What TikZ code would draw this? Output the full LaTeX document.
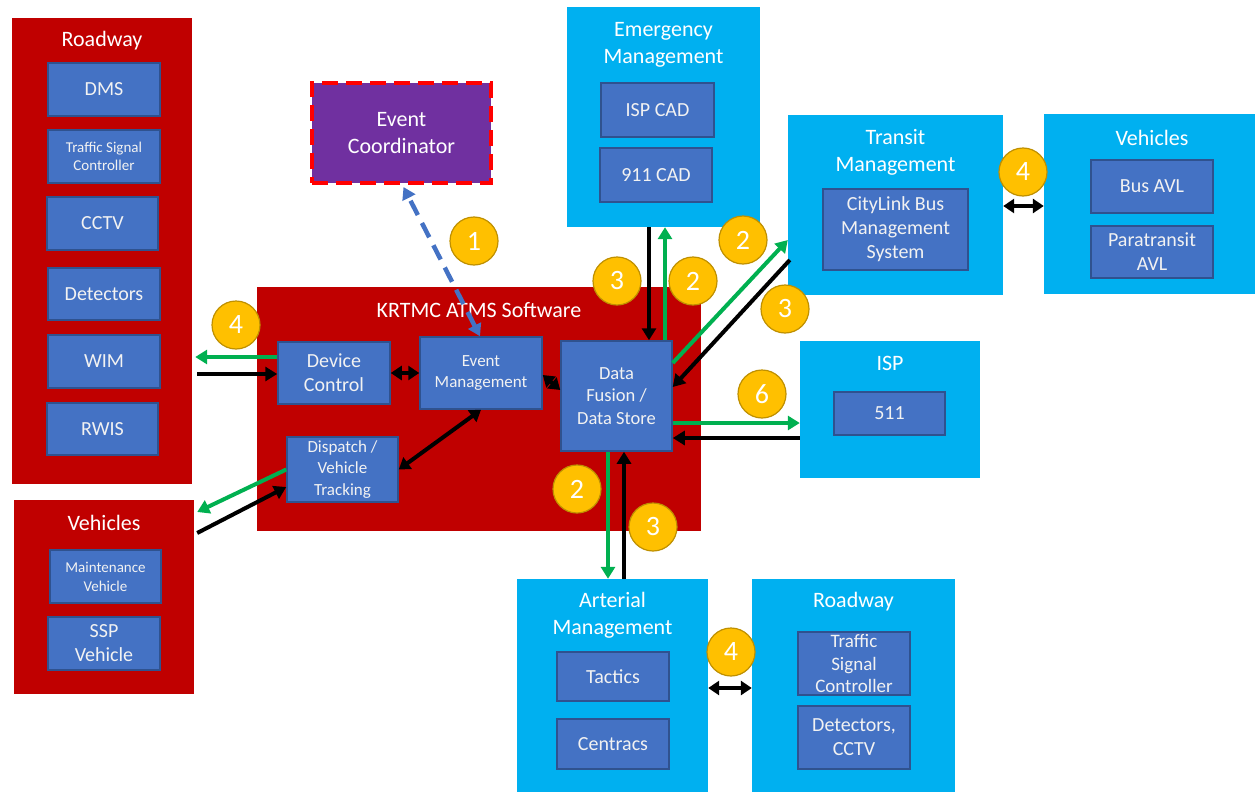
\documentclass[tikz,border=0pt]{standalone}
\usepackage{fontspec}
\setmainfont{Carlito}
\usetikzlibrary{arrows.meta,calc}

\definecolor{ksred}{HTML}{C00000}
\definecolor{kscyan}{HTML}{00B0F0}
\definecolor{ksblue}{HTML}{4472C4}
\definecolor{ksblueedge}{HTML}{2F528F}
\definecolor{ksgold}{HTML}{FFC000}
\definecolor{ksgoldedge}{HTML}{BF9000}
\definecolor{ksgreen}{HTML}{00B050}
\definecolor{kspurple}{HTML}{7030A0}
\definecolor{kslight}{HTML}{F2F2F2}

\newcommand{\fsz}[2]{\fontsize{#1}{#2}\selectfont}

\tikzset{
  wh/.style 2 args={minimum width=#1pt, minimum height=#2pt},
  redgroup/.style={rectangle, fill=ksred, inner sep=0pt},
  cyangroup/.style={rectangle, fill=kscyan, inner sep=0pt},
  sub/.style={rectangle, fill=ksblue, draw=ksblueedge, line width=1.5pt,
    text=kslight, align=center, inner sep=0pt, font=\fsz{20}{24}},
  grouptitle/.style={text=white, align=center, inner sep=0pt, font=\fsz{22}{27}},
  badge/.style={circle, fill=ksgold, draw=ksgoldedge, line width=1.2pt,
    minimum size=48pt, inner sep=0pt, text=white, font=\fsz{28}{28}},
  oneway/.style={line width=4pt, -{Triangle[length=12pt,width=14pt]}},
  twoway/.style={line width=4pt,
    {Triangle[length=11pt,width=14pt]}-{Triangle[length=11pt,width=14pt]}},
  gflow/.style={oneway, draw=ksgreen},
  kflow/.style={oneway, draw=black},
  kboth/.style={twoway, draw=black},
}

\begin{document}
\begin{tikzpicture}[x=1pt, y=-1pt]
\useasboundingbox (0,0) rectangle (1255,792);

% ---------------- Roadway field devices (left) ----------------
\node[redgroup, wh={180}{466}] (roadL) at (102,251) {};
\node[grouptitle] (roadLt) at ($(roadL.north)+(0,23)$) {Roadway};
\node[sub, wh={112}{53}] (dms) at (104,89.5) {DMS};
\node[sub, wh={112}{53}, font=\fsz{15}{18}] (tscL) at (104,156.5) {Traffic Signal\\Controller};
\node[sub, wh={111}{53}] (cctvL) at (102.5,223.5) {CCTV};
\node[sub, wh={112}{52}] (detL) at (104,294) {Detectors};
\node[sub, wh={112}{53}] (wim) at (104,361.5) {WIM};
\node[sub, wh={111}{52}] (rwis) at (102.5,429) {RWIS};

% ---------------- Vehicles (left) ----------------
\node[redgroup, wh={180}{194}] (vehL) at (104,597) {};
\node[grouptitle] (vehLt) at ($(vehL.north)+(0,23)$) {Vehicles};
\node[sub, wh={111}{53}, font=\fsz{15}{19}] (maint) at (105.5,576.5) {Maintenance\\Vehicle};
\node[sub, wh={112}{53}] (ssp) at (104,643.5) {SSP\\Vehicle};

% ---------------- Event coordinator ----------------
\node[rectangle, fill=kspurple, draw=red, line width=4pt, dash pattern=on 16pt off 8pt,
  wh={179}{100}, text=white, align=center, font=\fsz{22}{27}] (ec) at (401.5,133) {Event\\Coordinator};

% ---------------- KRTMC ATMS software ----------------
\node[redgroup, wh={444}{244}] (atms) at (479,409) {};
\node[grouptitle] (atmst) at ($(atms.north)+(0,23)$) {KRTMC ATMS Software};
\node[sub, wh={112}{62}] (dc) at (334,373) {Device\\Control};
\node[sub, wh={122}{72}, font=\fsz{17}{21}] (em) at (481,373) {Event\\Management};
\node[sub, wh={111}{65}, font=\fsz{17}{21.5}] (dv) at (342.5,469.5) {Dispatch /\\Vehicle\\Tracking};
\node[sub, wh={111}{110}, font=\fsz{18.5}{22.5}] (df) at (616.5,396) {Data\\Fusion /\\Data Store};

% ---------------- Emergency management ----------------
\node[cyangroup, wh={193}{220}] (emg) at (663.5,117) {};
\node[grouptitle] (emgt) at ($(emg.north)+(0,38)$) {Emergency\\Management};
\node[sub, wh={113}{54}] (ispcad) at (657.5,110) {ISP CAD};
\node[sub, wh={112}{54}] (cad911) at (656,175) {911 CAD};

% ---------------- Transit management ----------------
\node[cyangroup, wh={215}{180}] (tr) at (895.5,205) {};
\node[grouptitle] (trt) at ($(tr.north)+(0,38)$) {Transit\\Management};
\node[sub, wh={145}{81}] (citylink) at (895.5,229.5) {CityLink Bus\\Management\\System};

% ---------------- Vehicles (transit) ----------------
\node[cyangroup, wh={211}{180}] (vehR) at (1149.5,204) {};
\node[grouptitle] (vehRt) at (1152,138) {Vehicles};
\node[sub, wh={122}{53}] (busavl) at (1152,186.5) {Bus AVL};
\node[sub, wh={122}{52}] (paraavl) at (1152,252) {Paratransit\\AVL};

% ---------------- ISP ----------------
\node[cyangroup, wh={180}{137}] (isp) at (890,409.5) {};
\node[grouptitle] (ispt) at ($(isp.north)+(0,23)$) {ISP};
\node[sub, wh={111}{43}] (p511) at (889.5,413.5) {511};

% ---------------- Arterial management ----------------
\node[cyangroup, wh={191}{213}] (art) at (612.5,685.5) {};
\node[grouptitle] (artt) at ($(art.north)+(0,36)$) {Arterial\\Management};
\node[sub, wh={112}{49}] (tactics) at (613,676.5) {Tactics};
\node[sub, wh={112}{50}] (centracs) at (613,744) {Centracs};

% ---------------- Roadway (arterial) ----------------
\node[cyangroup, wh={203}{213}] (roadR) at (853.5,685.5) {};
\node[grouptitle] (roadRt) at ($(roadR.north)+(0,23)$) {Roadway};
\node[sub, wh={112}{63}, font=\fsz{19}{22.5}] (tscR) at (854,663.5) {Traffic\\Signal\\Controller};
\node[sub, wh={112}{63}] (detR) at (854,737.5) {Detectors,\\CCTV};

% ---------------- Connectors ----------------
% device control <-> roadway devices
\draw[gflow] ($(dc.west)+(0,-16)$) -- ($(roadL.east)+(3,106)$);
\draw[kflow] ($(roadL.east)+(5,123)$) -- ($(dc.west)+(0,1)$);
% internal links
\draw[kboth] (dc.east) -- (em.west);
\draw[kboth] ($(em.east)+(0,2)$) -- ($(df.west)+(0,-6)$);
\draw[kboth] (em.south) -- (dv.east);
% dispatch <-> vehicles
\draw[gflow] (dv.west) -- ($(vehL.east)+(3,-85)$);
\draw[kflow] ($(vehL.east)+(3,-64)$) -- ($(dv.west)+(0,17.5)$);
% event management <-> event coordinator
\draw[draw=ksblue, line width=4.5pt, dash pattern=on 16pt off 9pt,
  {Triangle[length=12pt,width=14pt]}-{Triangle[length=12pt,width=14pt]}]
  ($(em.north)+(-1,0)$) -- ($(ec.south)+(2,2)$);
% data fusion <-> emergency management
\draw[kflow] ($(emg.south)+(-14.5,0)$) -- ($(df.north)+(32.5,0)$);
\draw[gflow] ($(df.north)+(48.5,0)$) -- ($(emg.south)+(1.5,0)$);
% data fusion <-> transit management
\draw[gflow] ($(df.east)+(0,-33)$) -- ($(tr.west)+(0,35)$);
\draw[kflow] ($(tr.west)+(2,55)$) -- ($(df.east)+(0,-9)$);
% data fusion <-> ISP
\draw[gflow] ($(df.east)+(0,27)$) -- ($(isp.west)+(0,13.5)$);
\draw[kflow] ($(isp.west)+(0,28.5)$) -- ($(df.east)+(0,42)$);
% data fusion <-> arterial management
\draw[gflow] ($(df.south)+(-8.5,0)$) -- ($(art.north)+(-4.5,0)$);
\draw[kflow] ($(art.north)+(11.5,0)$) -- ($(df.south)+(7.5,0)$);
% center to field links
\draw[kboth] ($(tr.east)+(0,1)$) -- ($(vehR.west)+(0,2)$);
\draw[kboth] ($(art.east)+(0,2.5)$) -- ($(roadR.west)+(0,2.5)$);

% ---------------- Flow numbers ----------------
\node[badge] (b1) at (474,241) {1};
\node[badge] (b4a) at (236,325) {4};
\node[badge] (b3a) at (617,281) {3};
\node[badge] (b2a) at (693,281) {2};
\node[badge] (b2b) at (743,240) {2};
\node[badge] (b3b) at (785,309) {3};
\node[badge] (b4b) at (1023,172) {4};
\node[badge] (b6) at (762,394) {6};
\node[badge] (b2c) at (577,489) {2};
\node[badge] (b3c) at (653,527) {3};
\node[badge] (b4c) at (731,652) {4};
\end{tikzpicture}
\end{document}
